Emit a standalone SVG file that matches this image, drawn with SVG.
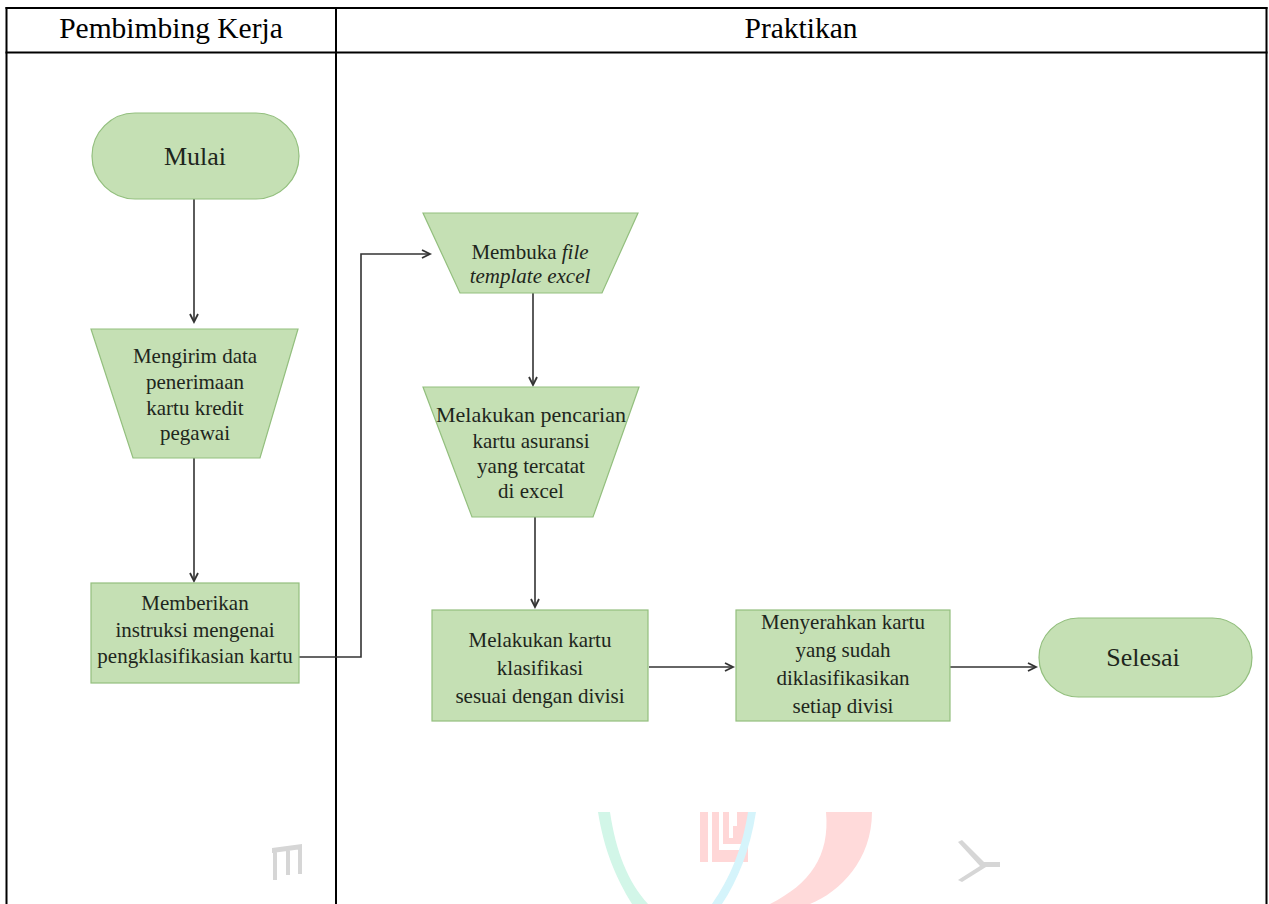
<svg xmlns="http://www.w3.org/2000/svg" width="1269" height="904" viewBox="0 0 1269 904">
<style>
.grid{stroke:#000;stroke-width:2;fill:none}
.hdr{font-family:"Liberation Serif","Times New Roman",serif;font-size:29.5px;fill:#000;text-anchor:middle}
.shape{fill:#c5e0b4;stroke:#93bf7e;stroke-width:1.2}
.t{font-family:"Liberation Serif","Times New Roman",serif;font-size:21px;fill:#1e261c;text-anchor:middle}
.term{font-size:26px}
.conn{stroke:#333;stroke-width:1.6;fill:none;marker-end:url(#arr)}
</style>
<defs>
<marker id="arr" markerUnits="userSpaceOnUse" markerWidth="12" markerHeight="12" refX="9" refY="5" orient="auto">
<path d="M1,1 L9,5 L1,9" fill="none" stroke="#333" stroke-width="1.8"/>
</marker>
</defs>
<rect width="1269" height="904" fill="#fff"/>
<g id="watermark">
<path d="M272,848 L302,844 L302,849 L272,853 Z M273,850 h4 v30 h-4 Z M286,849 h4 v26 h-4 Z M298,846 h4 v28 h-4 Z" fill="#d6d6d6"/>
<path d="M598,812 L610,812 C616,852 628,882 648,904 L632,904 C616,878 604,850 598,812 Z" fill="#d2f6e8"/>
<path d="M700,812 h8 v50 h-8 Z M712,812 h7 v38 h22 v-38 h7 v50 h-36 Z M723,812 h6 v26 h4 v-12 h4 v-14 h4 v32 h-18 Z" fill="#ffd7d7"/>
<path d="M748,812 L756,812 C750,850 738,880 722,904 L712,904 C730,878 742,850 748,812 Z" fill="#d5f4fb"/>
<path d="M826,812 L872,812 C872,860 840,892 810,904 L770,904 C810,884 830,856 826,812 Z" fill="#ffdada"/>
<path d="M958,842 L962,840 L984,862 L1000,862 L1000,867 L986,867 L962,882 L958,880 L980,866 Z" fill="#d6d6d6"/>
</g>
<g id="table">
<line class="grid" x1="5.5" y1="8" x2="1267.5" y2="8"/>
<line class="grid" x1="6.5" y1="7" x2="6.5" y2="904"/>
<line class="grid" x1="1266.5" y1="7" x2="1266.5" y2="904"/>
<line class="grid" x1="5.5" y1="52.5" x2="1267.5" y2="52.5"/>
<line class="grid" x1="336" y1="7" x2="336" y2="904"/>
<text class="hdr" x="171" y="38">Pembimbing Kerja</text>
<text class="hdr" x="801" y="38">Praktikan</text>
</g>
<g id="connectors">
<path class="conn" d="M194,199 V322"/>
<path class="conn" d="M194,458 V581"/>
<path class="conn" d="M299,657 H361 V254 H430"/>
<path class="conn" d="M533,293 V385"/>
<path class="conn" d="M535,517 V607"/>
<path class="conn" d="M649,667 H733"/>
<path class="conn" d="M950,667 H1036"/>
</g>
<g id="mulai">
<rect class="shape" x="92" y="113" width="207" height="86" rx="43"/>
<text class="t term" x="195" y="165">Mulai</text>
</g>
<g id="mengirim">
<polygon class="shape" points="91,329 298,329 260,458 133,458"/>
<text class="t" x="195" y="363">Mengirim data</text>
<text class="t" x="195" y="389">penerimaan</text>
<text class="t" x="195" y="415">kartu kredit</text>
<text class="t" x="195" y="440">pegawai</text>
</g>
<g id="memberikan">
<rect class="shape" x="91" y="583" width="208" height="100"/>
<text class="t" x="195" y="610">Memberikan</text>
<text class="t" x="195" y="637">instruksi mengenai</text>
<text class="t" x="195" y="663">pengklasifikasian kartu</text>
</g>
<g id="membuka">
<polygon class="shape" points="423,213 638,213 602,293 460,293"/>
<text class="t" x="530" y="259">Membuka <tspan font-style="italic">file</tspan></text>
<text class="t" x="530" y="283" font-style="italic">template excel</text>
</g>
<g id="pencarian">
<polygon class="shape" points="423,387 639,387 593,517 472,517"/>
<text class="t" x="531" y="422" style="font-size:22px">Melakukan pencarian</text>
<text class="t" x="531" y="448">kartu asuransi</text>
<text class="t" x="531" y="473">yang tercatat</text>
<text class="t" x="531" y="498">di excel</text>
</g>
<g id="klasifikasi">
<rect class="shape" x="432" y="610" width="216" height="111"/>
<text class="t" x="540" y="647">Melakukan kartu</text>
<text class="t" x="540" y="675">klasifikasi</text>
<text class="t" x="540" y="703">sesuai dengan divisi</text>
</g>
<g id="menyerahkan">
<rect class="shape" x="736" y="610" width="214" height="111"/>
<text class="t" x="843" y="629">Menyerahkan kartu</text>
<text class="t" x="843" y="657">yang sudah</text>
<text class="t" x="843" y="685">diklasifikasikan</text>
<text class="t" x="843" y="713">setiap divisi</text>
</g>
<g id="selesai">
<rect class="shape" x="1039" y="618" width="213" height="79" rx="39.5"/>
<text class="t term" x="1143" y="666">Selesai</text>
</g>
</svg>
